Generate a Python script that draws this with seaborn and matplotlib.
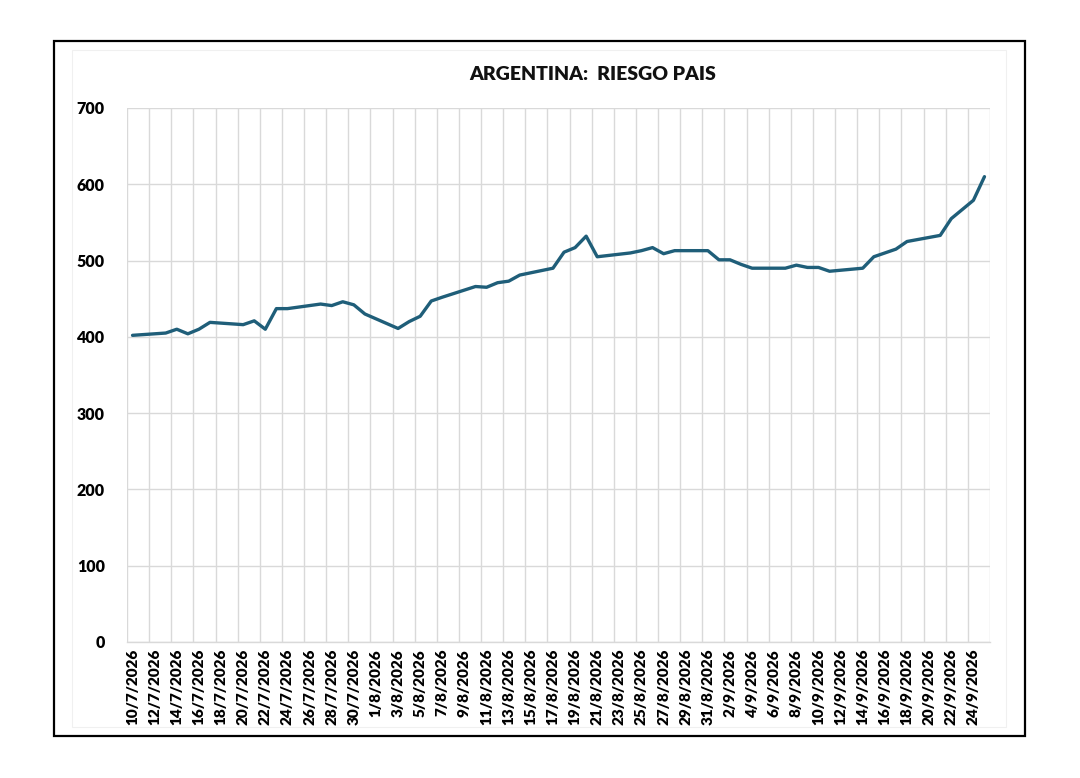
#! /usr/bin/env python3

import pandas as pd
import matplotlib
matplotlib.use("Agg")
import matplotlib.pyplot as plt
import matplotlib.dates as mdates
import matplotlib.ticker as mticker
from matplotlib.patches import Rectangle
import seaborn as sns

# riesgo pais, business days only (weekends get joined by a straight segment)
fechas = ['10/7/2026', '13/7/2026', '14/7/2026', '15/7/2026', '16/7/2026', '17/7/2026',
          '20/7/2026', '21/7/2026', '22/7/2026', '23/7/2026', '24/7/2026',
          '27/7/2026', '28/7/2026', '29/7/2026', '30/7/2026', '31/7/2026',
          '3/8/2026', '4/8/2026', '5/8/2026', '6/8/2026', '7/8/2026',
          '10/8/2026', '11/8/2026', '12/8/2026', '13/8/2026', '14/8/2026',
          '17/8/2026', '18/8/2026', '19/8/2026', '20/8/2026', '21/8/2026',
          '24/8/2026', '25/8/2026', '26/8/2026', '27/8/2026', '28/8/2026',
          '31/8/2026', '1/9/2026', '2/9/2026', '3/9/2026', '4/9/2026',
          '7/9/2026', '8/9/2026', '9/9/2026', '10/9/2026', '11/9/2026',
          '14/9/2026', '15/9/2026', '16/9/2026', '17/9/2026', '18/9/2026',
          '21/9/2026', '22/9/2026', '23/9/2026', '24/9/2026', '25/9/2026']
riesgo = [402, 405, 410, 404, 410, 419,
          416, 421, 410, 437, 437,
          443, 441, 446, 442, 430,
          411, 420, 427, 447, 452,
          466, 465, 471, 473, 481,
          490, 511, 517, 532, 505,
          510, 513, 517, 509, 513,
          513, 501, 501, 495, 490,
          490, 494, 491, 491, 486,
          490, 505, 510, 515, 525,
          533, 555, 567, 579, 610]

y_ticks = [0, 100, 200, 300, 400, 500, 600, 700]

df = pd.DataFrame({'Fecha': pd.to_datetime(fechas, format='%d/%m/%Y'), 'Riesgo': riesgo})

sns.set_theme(style="white")
plt.rcParams['font.family'] = ['Lato', 'DejaVu Sans']
plt.rcParams['text.color'] = 'black'
plt.rcParams['xtick.color'] = 'black'
plt.rcParams['ytick.color'] = 'black'

fig = plt.figure(figsize=(10.8, 7.78), dpi=100)
W, H = 1080, 778

# chart border (outer black, inner faint gray)
fig.patches.append(Rectangle((54 / W, 1 - 736 / H), (1025 - 54) / W, (736 - 41) / H,
                             transform=fig.transFigure, fill=False, edgecolor='black', lw=1.6))
fig.patches.append(Rectangle((72 / W, 1 - 727 / H), (1006 - 72) / W, (727 - 50) / H,
                             transform=fig.transFigure, fill=False, edgecolor='#F0F0F0', lw=0.8))

ax = fig.add_axes([127 / W, 1 - 642 / H, (990 - 127) / W, (642 - 108) / H])

sns.lineplot(x='Fecha', y='Riesgo', data=df, ax=ax, color='#1F5E79', lw=2.4)

start = df['Fecha'].iloc[0]
end = df['Fecha'].iloc[-1]
half = pd.Timedelta(hours=12)
ax.set_xlim(start - half, end + half)
ax.set_ylim(0, 700)

# gridlines every two days at category edges, labels at category centres
grid_pos = pd.date_range(start - half, end + half, freq='2D')
label_pos = pd.date_range(start, end, freq='2D')
ax.xaxis.set_major_locator(mticker.FixedLocator(mdates.date2num(grid_pos)))
ax.xaxis.set_minor_locator(mticker.FixedLocator(mdates.date2num(label_pos)))
ax.xaxis.set_major_formatter(mticker.NullFormatter())


def fmt_fecha(x, pos):
    d = mdates.num2date(x)
    return f"{d.day}/{d.month}/{d.year}"


ax.xaxis.set_minor_formatter(mticker.FuncFormatter(fmt_fecha))
ax.tick_params(axis='x', which='major', length=4, width=1, color='#D9D9D9', direction='out')
ax.tick_params(axis='x', which='minor', length=0, pad=5, labelsize=11, rotation=90)
for lbl in ax.get_xticklabels(minor=True):
    lbl.set_fontweight('heavy')
    lbl.set_va('top')

ax.set_yticks(y_ticks)
ax.set_yticklabels([str(v) for v in y_ticks], fontweight='heavy', fontsize=11.5)
ax.tick_params(axis='y', length=0, pad=16)

ax.grid(True, which='major', axis='both', color='#D9D9D9', lw=1.0)
ax.set_axisbelow(True)
for side in ['top', 'right', 'left']:
    ax.spines[side].set_visible(False)
ax.spines['bottom'].set_color('#D9D9D9')
ax.spines['bottom'].set_linewidth(1.0)

ax.set_xlabel('')
ax.set_ylabel('')

fig.text(593 / W, 1 - 74 / H, 'ARGENTINA:  RIESGO PAIS', ha='center', va='center',
         fontsize=14, fontweight='heavy', color='#111111')

plt.savefig('out.png', dpi=100)
